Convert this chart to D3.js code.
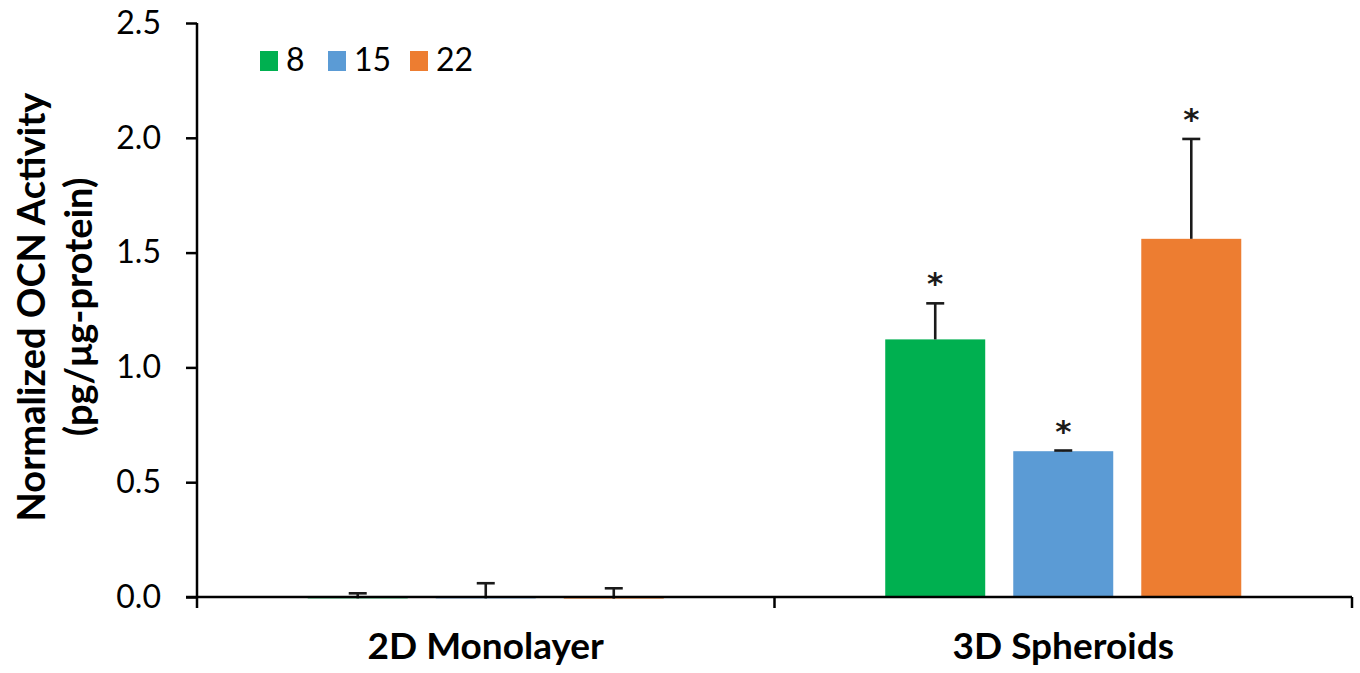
<!DOCTYPE html>
<html>
<head>
<meta charset="utf-8">
<script src="https://cdn.jsdelivr.net/npm/d3@7"></script>
<style>
  html, body { margin: 0; padding: 0; background: #fff; }
  svg { display: block; font-family: Lato, "Open Sans", sans-serif; }
</style>
</head>
<body>
<svg id="chart" width="1360" height="673"></svg>
<script>
// Culture formats and time points (days)
const categories = ["2D Monolayer", "3D Spheroids"];
const seriesNames = ["8", "15", "22"];
const seriesColors = ["#00B050", "#5B9BD5", "#ED7D31"];

// Mean normalized OCN activity per series, one value per category
const values8  = [-0.006, 1.122];
const values15 = [-0.006, 0.635];
const values22 = [-0.007, 1.560];

// Positive error (SD) per series, one value per category
const err8  = [0.022, 0.157];
const err15 = [0.066, 0.003];
const err22 = [0.045, 0.435];

// Significance markers per series, one flag per category
const sig8  = [false, true];
const sig15 = [false, true];
const sig22 = [false, true];

const yTicks = [0, 0.5, 1.0, 1.5, 2.0, 2.5];

const seriesValues = [values8, values15, values22];
const seriesErr = [err8, err15, err22];
const seriesSig = [sig8, sig15, sig22];

const svg = d3.select("#chart");
const plotLeft = 197, plotRight = 1352, plotTop = 23, plotBottom = 597;

const x0 = d3.scaleBand().domain(categories).range([plotLeft, plotRight]).padding(0);
const x1 = d3.scaleBand().domain(seriesNames).range([0, x0.bandwidth()])
  .paddingInner(0.219).paddingOuter(0.865);
const y = d3.scaleLinear().domain([0, 2.5]).range([plotBottom, plotTop]);

// Flatten into drawable records
const records = [];
categories.forEach((c, ci) => {
  seriesNames.forEach((s, si) => {
    records.push({
      cat: c, series: s, color: seriesColors[si],
      value: seriesValues[si][ci], err: seriesErr[si][ci], sig: seriesSig[si][ci]
    });
  });
});

// Bars
svg.append("g").selectAll("rect").data(records).join("rect")
  .attr("x", d => x0(d.cat) + x1(d.series))
  .attr("width", x1.bandwidth())
  .attr("y", d => y(Math.max(0, d.value)))
  .attr("height", d => Math.abs(y(d.value) - y(0)))
  .attr("fill", d => d.color);

// Error bars (plus direction only)
const eg = svg.append("g").attr("stroke", "#1a1a1a").attr("stroke-width", 2.6);
records.forEach(d => {
  const cx = x0(d.cat) + x1(d.series) + x1.bandwidth() / 2;
  const yTop = y(d.value + d.err);
  eg.append("line").attr("x1", cx).attr("x2", cx).attr("y1", y(d.value)).attr("y2", yTop);
  eg.append("line").attr("x1", cx - 9).attr("x2", cx + 9).attr("y1", yTop).attr("y2", yTop);
});

// Significance asterisks
svg.append("g").selectAll("text").data(records.filter(d => d.sig)).join("text")
  .attr("x", d => x0(d.cat) + x1(d.series) + x1.bandwidth() / 2)
  .attr("y", d => y(d.value + d.err) - 9)
  .attr("text-anchor", "middle")
  .attr("font-family", "'DejaVu Sans', sans-serif")
  .attr("font-weight", "bold")
  .attr("font-size", 31)
  .attr("fill", "#1a1a1a")
  .text("*");

// Y axis
const yAxis = d3.axisLeft(y).tickValues(yTicks).tickFormat(d3.format(".1f"))
  .tickSizeInner(11).tickSizeOuter(0).tickPadding(25);
const gy = svg.append("g").attr("transform", `translate(${plotLeft},0)`).call(yAxis);
gy.select(".domain").attr("stroke", "#000").attr("stroke-width", 2.5)
  .attr("d", `M0,${plotTop}V${plotBottom + 11}`);
gy.selectAll(".tick line").attr("stroke", "#000").attr("stroke-width", 2.5);
gy.selectAll(".tick text").attr("font-size", 32).attr("fill", "#000")
  .attr("font-family", "Lato, sans-serif");

// X axis: baseline with category boundary ticks
const gx = svg.append("g");
gx.append("line").attr("x1", plotLeft - 11).attr("x2", plotRight).attr("y1", y(0)).attr("y2", y(0))
  .attr("stroke", "#000").attr("stroke-width", 2.5);
const bounds = categories.map(c => x0(c) + x0.bandwidth());
gx.selectAll("line.bound").data(bounds).join("line").attr("class", "bound")
  .attr("x1", d => d).attr("x2", d => d).attr("y1", y(0)).attr("y2", y(0) + 11)
  .attr("stroke", "#000").attr("stroke-width", 2.5);
gx.selectAll("text").data(categories).join("text")
  .attr("x", d => x0(d) + x0.bandwidth() / 2)
  .attr("y", 659)
  .attr("text-anchor", "middle")
  .attr("font-size", 37).attr("font-weight", "bold").attr("fill", "#000")
  .text(d => d);

// Y axis title
const title = svg.append("text")
  .attr("transform", "translate(0,307) rotate(-90)")
  .attr("text-anchor", "middle")
  .attr("font-size", 38).attr("font-weight", "bold").attr("fill", "#000");
title.append("tspan").attr("x", 0).attr("y", 45).text("Normalized OCN Activity");
title.append("tspan").attr("x", 0).attr("y", 92).text("(pg/μg-protein)");

// Legend
const legend = svg.append("g");
const legendX = [260, 328, 410];
seriesNames.forEach((s, i) => {
  const g = legend.append("g").attr("transform", `translate(${legendX[i]},51)`);
  g.append("rect").attr("width", 18).attr("height", 20).attr("fill", seriesColors[i]);
  g.append("text").attr("x", 26).attr("y", 20).attr("font-size", 32).attr("fill", "#000").text(s);
});
</script>
</body>
</html>
